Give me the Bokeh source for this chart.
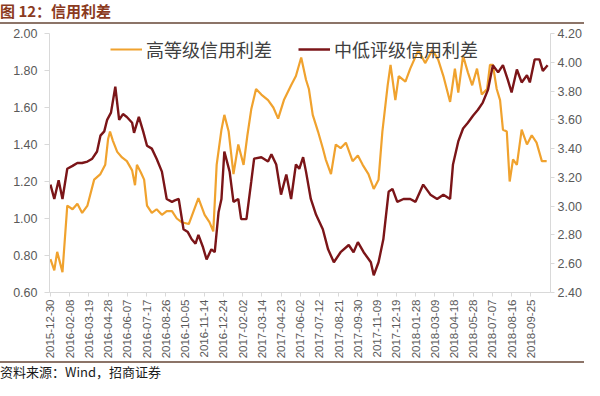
import math
import pandas as pd
from bokeh.plotting import figure
from bokeh.layouts import column
from bokeh.models import (Range1d, LinearAxis, FixedTicker, DatetimeTickFormatter,
                          PrintfTickFormatter, Legend, LegendItem, Div)
from bokeh.embed import file_html
from bokeh.resources import INLINE

title_text = "图 12：信用利差"
source_text = "资料来源：Wind，招商证券"
hi_name = "高等级信用利差"
lo_name = "中低评级信用利差"

tick_labels = ["2015-12-30", "2016-02-08", "2016-03-19", "2016-04-28", "2016-06-07",
               "2016-07-17", "2016-08-26", "2016-10-05", "2016-11-14", "2016-12-24",
               "2017-02-02", "2017-03-14", "2017-04-23", "2017-06-02", "2017-07-12",
               "2017-08-21", "2017-09-30", "2017-11-09", "2017-12-19", "2018-01-28",
               "2018-03-09", "2018-04-18", "2018-05-28", "2018-07-07", "2018-08-16",
               "2018-09-25"]
left_ticks = [0.60, 0.80, 1.00, 1.20, 1.40, 1.60, 1.80, 2.00]
right_ticks = [2.40, 2.60, 2.80, 3.00, 3.20, 3.40, 3.60, 3.80, 4.00, 4.20]

hi_dates = ["2015-12-30", "2016-01-07", "2016-01-13", "2016-01-24", "2016-02-03", "2016-02-14",
            "2016-02-24", "2016-03-05", "2016-03-16", "2016-03-30", "2016-04-12", "2016-04-22",
            "2016-04-28", "2016-05-02", "2016-05-08", "2016-05-17", "2016-05-27", "2016-06-06",
            "2016-06-17", "2016-06-23", "2016-06-27", "2016-07-05", "2016-07-12", "2016-07-18",
            "2016-07-28", "2016-08-07", "2016-08-18", "2016-08-28", "2016-09-08", "2016-09-18",
            "2016-09-28", "2016-10-13", "2016-10-23", "2016-11-02", "2016-11-15", "2016-11-25",
            "2016-12-03", "2016-12-10", "2016-12-20", "2016-12-26", "2017-01-04", "2017-01-14",
            "2017-01-24", "2017-02-04", "2017-02-12", "2017-02-20", "2017-03-02", "2017-03-13",
            "2017-03-27", "2017-04-07", "2017-04-17", "2017-04-29", "2017-05-14", "2017-05-24",
            "2017-06-04", "2017-06-14", "2017-06-20", "2017-06-28", "2017-07-09", "2017-07-19",
            "2017-07-25", "2017-08-05", "2017-08-15", "2017-08-25", "2017-09-05", "2017-09-19",
            "2017-09-30", "2017-10-10", "2017-10-22", "2017-11-02", "2017-11-12", "2017-11-20",
            "2017-12-01", "2017-12-07", "2017-12-17", "2017-12-24", "2018-01-07", "2018-01-17",
            "2018-02-03", "2018-02-17", "2018-03-04", "2018-03-16", "2018-03-27", "2018-04-10",
            "2018-04-20", "2018-04-27", "2018-05-07", "2018-05-17", "2018-05-26", "2018-06-05",
            "2018-06-15", "2018-06-26", "2018-07-02", "2018-07-08", "2018-07-16", "2018-07-23",
            "2018-07-29", "2018-08-06", "2018-08-12", "2018-08-19", "2018-08-27", "2018-09-06",
            "2018-09-17", "2018-09-27", "2018-10-07", "2018-10-18", "2018-10-28"]
hi_vals = [0.78, 0.72, 0.82, 0.71, 1.07, 1.05,
           1.08, 1.03, 1.07, 1.21, 1.24, 1.29,
           1.43, 1.47, 1.42, 1.36, 1.33, 1.31,
           1.26, 1.18, 1.29, 1.25, 1.21, 1.07,
           1.03, 1.05, 1.02, 1.04, 1.04, 1.00,
           0.98, 0.97, 1.04, 1.11, 1.02, 0.98,
           0.93, 1.29, 1.48, 1.56, 1.47, 1.24,
           1.40, 1.29, 1.45, 1.59, 1.70, 1.67,
           1.64, 1.60, 1.54, 1.64, 1.72, 1.77,
           1.87, 1.75, 1.70, 1.56, 1.47, 1.38,
           1.32, 1.24, 1.40, 1.38, 1.41, 1.31,
           1.34, 1.29, 1.24, 1.16, 1.21, 1.47,
           1.72, 1.83, 1.64, 1.77, 1.74, 1.81,
           1.91, 1.84, 1.91, 1.86, 1.77, 1.63,
           1.81, 1.68, 1.88, 1.79, 1.72, 1.81,
           1.67, 1.70, 1.83, 1.83, 1.70, 1.64,
           1.48, 1.47, 1.20, 1.32, 1.29, 1.48,
           1.40, 1.45, 1.41, 1.31, 1.31]

lo_dates = ["2015-12-30", "2016-01-07", "2016-01-16", "2016-01-24", "2016-02-03", "2016-02-14",
            "2016-02-24", "2016-03-05", "2016-03-16", "2016-03-26", "2016-04-05", "2016-04-12",
            "2016-04-20", "2016-04-26", "2016-05-04", "2016-05-13", "2016-05-21", "2016-05-29",
            "2016-06-06", "2016-06-17", "2016-06-21", "2016-07-01", "2016-07-10", "2016-07-18",
            "2016-07-28", "2016-08-07", "2016-08-18", "2016-08-28", "2016-09-08", "2016-09-14",
            "2016-09-22", "2016-10-02", "2016-10-11", "2016-10-19", "2016-10-27", "2016-11-02",
            "2016-11-11", "2016-11-19", "2016-11-29", "2016-12-06", "2016-12-14", "2016-12-20",
            "2016-12-26", "2017-01-06", "2017-01-14", "2017-01-24", "2017-01-30", "2017-02-10",
            "2017-02-20", "2017-02-26", "2017-03-13", "2017-03-27", "2017-04-03", "2017-04-13",
            "2017-04-23", "2017-05-04", "2017-05-14", "2017-05-24", "2017-05-31", "2017-06-08",
            "2017-06-14", "2017-06-24", "2017-07-05", "2017-07-19", "2017-07-30", "2017-08-11",
            "2017-08-25", "2017-09-11", "2017-09-21", "2017-09-30", "2017-10-12", "2017-10-27",
            "2017-11-02", "2017-11-12", "2017-11-22", "2017-12-03", "2017-12-11", "2017-12-21",
            "2018-01-03", "2018-01-17", "2018-01-28", "2018-02-13", "2018-02-28", "2018-03-14",
            "2018-03-27", "2018-04-10", "2018-04-16", "2018-04-27", "2018-05-07", "2018-05-17",
            "2018-05-28", "2018-06-07", "2018-06-17", "2018-06-28", "2018-07-08", "2018-07-19",
            "2018-07-29", "2018-08-08", "2018-08-16", "2018-08-27", "2018-09-06", "2018-09-17",
            "2018-09-23", "2018-10-03", "2018-10-13", "2018-10-20", "2018-10-30"]
lo_vals = [3.15, 3.05, 3.18, 3.05, 3.26, 3.28,
           3.30, 3.30, 3.31, 3.33, 3.38, 3.49,
           3.52, 3.60, 3.65, 3.83, 3.60, 3.64,
           3.62, 3.58, 3.51, 3.62, 3.52, 3.42,
           3.40, 3.33, 3.24, 3.05, 3.03, 3.04,
           3.05, 2.84, 2.82, 2.77, 2.74, 2.80,
           2.72, 2.63, 2.70, 2.68, 2.96, 3.05,
           3.38, 3.24, 3.03, 3.05, 2.91, 2.91,
           3.17, 3.33, 3.34, 3.31, 3.36, 3.29,
           3.08, 3.22, 3.05, 3.29, 3.26, 3.34,
           3.24, 3.05, 2.94, 2.84, 2.70, 2.61,
           2.68, 2.73, 2.68, 2.75, 2.68, 2.61,
           2.52, 2.61, 2.77, 3.10, 3.12, 3.03,
           3.05, 3.05, 3.03, 3.15, 3.08, 3.05,
           3.08, 3.05, 3.29, 3.45, 3.54, 3.58,
           3.63, 3.67, 3.72, 3.81, 3.98, 3.93,
           3.98, 3.88, 3.79, 3.95, 3.86, 3.91,
           3.86, 4.02, 4.02, 3.94, 3.98]

x_start = "2015-12-28"
x_end = "2018-11-05"

ORANGE = "#F0A22E"
MAROON = "#7B1518"
AXIS_C = "#D9D9D9"
LABEL_C = "#595959"
RULE_C = "#8C7468"
CJK = "Noto Sans CJK SC"
LAT = "Liberation Sans"

hi_dt = pd.to_datetime(hi_dates)
lo_dt = pd.to_datetime(lo_dates)
tick_ms = [int(pd.Timestamp(t).value // 10**6) for t in tick_labels]

p = figure(width=584, height=337, x_axis_type="datetime", output_backend="svg",
           toolbar_location=None, min_border_left=49, min_border_right=31,
           min_border_top=9, min_border_bottom=68,
           x_range=Range1d(pd.Timestamp(x_start), pd.Timestamp(x_end)),
           y_range=Range1d(0.6, 2.0), margin=0)
p.outline_line_color = None
p.xgrid.grid_line_color = None
p.ygrid.grid_line_color = None
p.extra_y_ranges = {"right": Range1d(2.4, 4.2)}

r_hi = p.line(hi_dt, hi_vals, line_color=ORANGE, line_width=2.2)
r_lo = p.line(lo_dt, lo_vals, line_color=MAROON, line_width=2.4, y_range_name="right")

xa = p.xaxis[0]
xa.ticker = FixedTicker(ticks=tick_ms)
fmt = "%Y-%m-%d"
xa.formatter = DatetimeTickFormatter(microseconds=fmt, milliseconds=fmt, seconds=fmt,
                                     minsec=fmt, minutes=fmt, hourmin=fmt, hours=fmt,
                                     days=fmt, months=fmt, years=fmt)
xa.major_label_orientation = math.pi / 2

ya = p.yaxis[0]
ya.ticker = FixedTicker(ticks=left_ticks)
ya.formatter = PrintfTickFormatter(format="%.2f")

ra = LinearAxis(y_range_name="right", ticker=FixedTicker(ticks=right_ticks),
                formatter=PrintfTickFormatter(format="%.2f"))
p.add_layout(ra, "right")

for ax in (xa, ya, ra):
    ax.axis_line_color = AXIS_C
    ax.major_tick_line_color = AXIS_C
    ax.minor_tick_line_color = None
    ax.major_tick_in = 0
    ax.major_tick_out = 4
    ax.major_label_text_font = LAT
    ax.major_label_text_color = LABEL_C
xa.major_label_text_font_size = "11.5px"
xa.major_label_standoff = 3
ya.major_label_text_font_size = "12.5px"
ya.major_label_standoff = 7
ya.major_tick_out = 5
ra.major_label_text_font_size = "12.5px"
ra.major_label_standoff = 3

legend = Legend(items=[LegendItem(label=hi_name, renderers=[r_hi]),
                       LegendItem(label=lo_name, renderers=[r_lo])],
                orientation="horizontal", location=(61, 230),
                glyph_width=32, glyph_height=20, label_height=20, label_standoff=4,
                spacing=26, padding=0, margin=0,
                border_line_alpha=0, background_fill_alpha=0,
                label_text_font=CJK, label_text_font_size="18px",
                label_text_color="#404040")
p.add_layout(legend)

title_div = Div(text=title_text, width=584, height=24, margin=0,
                styles={"font-family": CJK, "font-size": "15px", "font-weight": "bold",
                        "color": "#8B3A1E", "line-height": "22px",
                        "border-bottom": "2px solid " + RULE_C,
                        "box-sizing": "border-box"})
source_div = Div(text=source_text, width=584, height=19, margin=0,
                 styles={"font-family": CJK, "font-size": "13px", "color": "#1A1A1A",
                         "line-height": "17px", "border-top": "2px solid " + RULE_C,
                         "box-sizing": "border-box"})

layout = column(title_div, p, source_div, spacing=0)
open("out.html", "w").write(file_html(layout, INLINE))
